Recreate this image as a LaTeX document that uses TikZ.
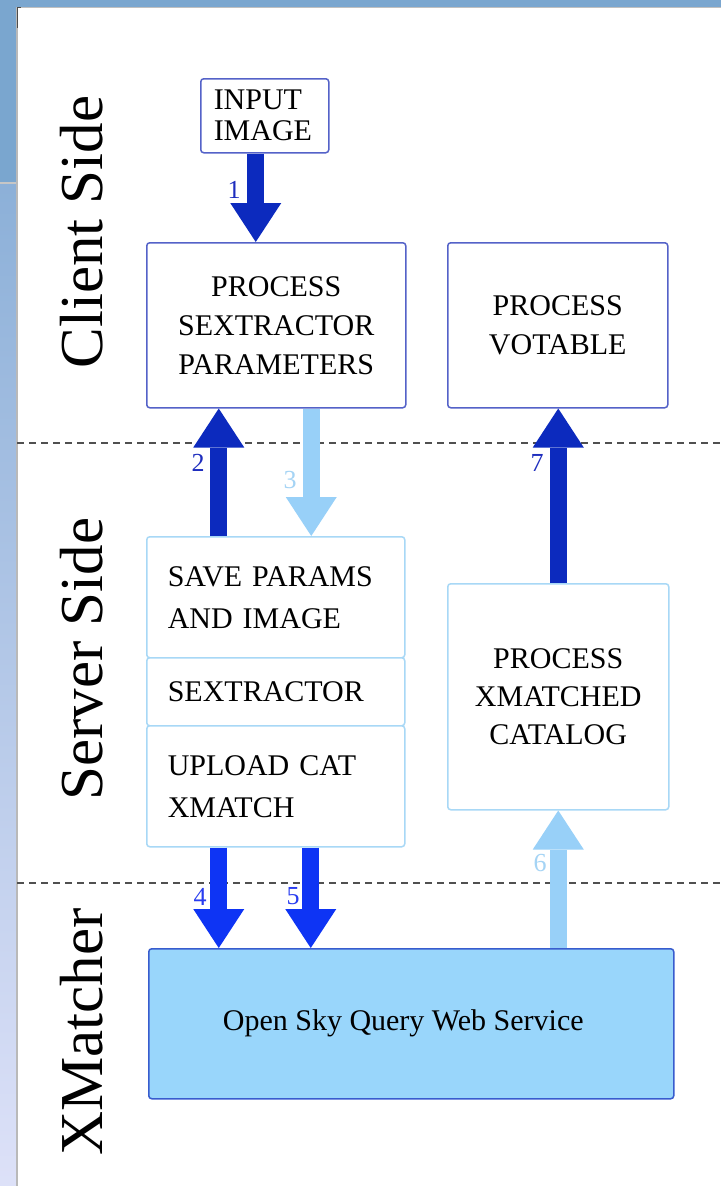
\documentclass[tikz,border=0pt]{standalone}
\usepackage{fontspec}
\setmainfont{Liberation Serif}
\usetikzlibrary{arrows.meta,calc}

\definecolor{clientline}{RGB}{84,98,200}
\definecolor{serverline}{RGB}{168,216,246}
\definecolor{darkflow}{RGB}{12,42,190}
\definecolor{brightflow}{RGB}{14,52,244}
\definecolor{lightflow}{RGB}{152,208,248}
\definecolor{skyfill}{RGB}{153,214,251}
\definecolor{skyline}{RGB}{56,92,206}
\definecolor{slidetop}{RGB}{122,166,207}
\definecolor{slidemid}{RGB}{140,176,216}
\definecolor{slidelow}{RGB}{221,225,248}
\definecolor{sepline}{RGB}{80,80,80}
\definecolor{darklabel}{RGB}{30,45,190}
\definecolor{brightlabel}{RGB}{40,60,240}
\definecolor{lightlabel}{RGB}{165,212,245}

\begin{document}
\begin{tikzpicture}[x=1pt,y=-1pt,
  box/.style={draw, rounded corners=3pt, line width=1.5pt, fill=white,
    inner sep=0pt, anchor=north west, align=center,
    font=\fontsize{30}{39}\selectfont},
  clientbox/.style={box, draw=clientline},
  serverbox/.style={box, draw=serverline, align=left, text width=216pt,
    inner xsep=21pt, font=\fontsize{30}{42}\selectfont},
  flow/.style={line width=17pt,
    -{Triangle[length=39pt,width=51pt,line width=0pt]}},
  darkflow/.style={flow, draw=darkflow},
  brightflow/.style={flow, draw=brightflow},
  lightflow/.style={flow, draw=lightflow},
  steplabel/.style={font=\fontsize{26}{26}\selectfont, inner sep=0pt},
  sidelabel/.style={rotate=90, anchor=base, inner sep=0pt,
    font=\fontsize{61}{61}\selectfont},
  separator/.style={draw=sepline, line width=1.3pt, dash pattern=on 7pt off 5pt}
]
\useasboundingbox (0,0) rectangle (721,1186);

% slide frame and page
\fill[white] (17,7) rectangle (721,1186);
\fill[slidetop] (0,0) rectangle (721,7);
\fill[slidetop] (0,0) rectangle (17,183);
\shade[top color=slidemid, bottom color=slidelow] (0,183) rectangle (17,1186);
\draw[gray!45, line width=2pt] (0,183) -- (17,183);
\draw[gray!55, line width=1.5pt] (17,7) -- (17,1186);
\draw[gray!50, line width=1pt] (17,7) -- (721,7);
\draw[black!70, line width=1pt] (17.5,28) -- (17.5,7.5) -- (21,7.5);

% tier separators
\draw[separator] (17,443) -- (721,443);
\draw[separator] (17,883) -- (721,883);

% tier names
\node[sidelabel] (client) at (102,232) {Client Side};
\node[sidelabel] (server) at (102,659) {Server Side};
\node[sidelabel] (xmatcher) at (102,1032) {XMatcher};

% client side
\node[clientbox, align=left, text width=102pt, inner xsep=13pt,
  minimum height=74pt, font=\fontsize{30}{31}\selectfont]
  (input) at (200,78) {INPUT\\IMAGE};
\node[clientbox, minimum width=259pt, minimum height=165pt]
  (proc) at (146,242) {PROCESS\\SEXTRACTOR\\PARAMETERS};
\node[clientbox, minimum width=220pt, minimum height=165pt]
  (vot) at (447,242) {PROCESS\\VOTABLE};

% server side
\node[serverbox, minimum height=121pt] (save) at (146,536) {SAVE PARAMS\\AND IMAGE};
\node[serverbox, minimum height=68pt] (sext) at (146,657) {SEXTRACTOR};
\node[serverbox, minimum height=121pt] (upl) at (146,725) {UPLOAD CAT\\XMATCH};
\node[box, draw=serverline, minimum width=221pt, minimum height=226pt,
  font=\fontsize{30}{38}\selectfont]
  (xm) at (447,583) {PROCESS\\XMATCHED\\CATALOG};

% cross-match service
\node[box, draw=skyline, fill=skyfill, minimum width=525pt, minimum height=150pt]
  (osq) at (148,948) {Open Sky Query Web Service\hspace*{16pt}};

% numbered flows
\draw[darkflow] ([xshift=-9pt]input.south) -- ([xshift=-9pt]input.south |- proc.north);
\draw[darkflow] ([xshift=-57pt]save.north) -- ([xshift=-57pt]save.north |- proc.south);
\draw[lightflow] ([xshift=35pt]proc.south) -- ([xshift=35pt]proc.south |- save.north);
\draw[brightflow] ([xshift=-57pt]upl.south) -- ([xshift=-57pt]upl.south |- osq.north);
\draw[brightflow] ([xshift=35pt]upl.south) -- ([xshift=35pt]upl.south |- osq.north);
\draw[lightflow] (xm.south |- osq.north) -- (xm.south);
\draw[darkflow] (xm.north) -- (xm.north |- vot.south);

% step numbers
\node[steplabel, text=darklabel] (n1) at (234,190) {1};
\node[steplabel, text=darklabel] (n2) at (198,463) {2};
\node[steplabel, text=lightlabel] (n3) at (290,480) {3};
\node[steplabel, text=brightlabel] (n4) at (200,897) {4};
\node[steplabel, text=brightlabel] (n5) at (293,896) {5};
\node[steplabel, text=lightlabel] (n6) at (540,863) {6};
\node[steplabel, text=darklabel] (n7) at (537,463) {7};
\end{tikzpicture}
\end{document}
